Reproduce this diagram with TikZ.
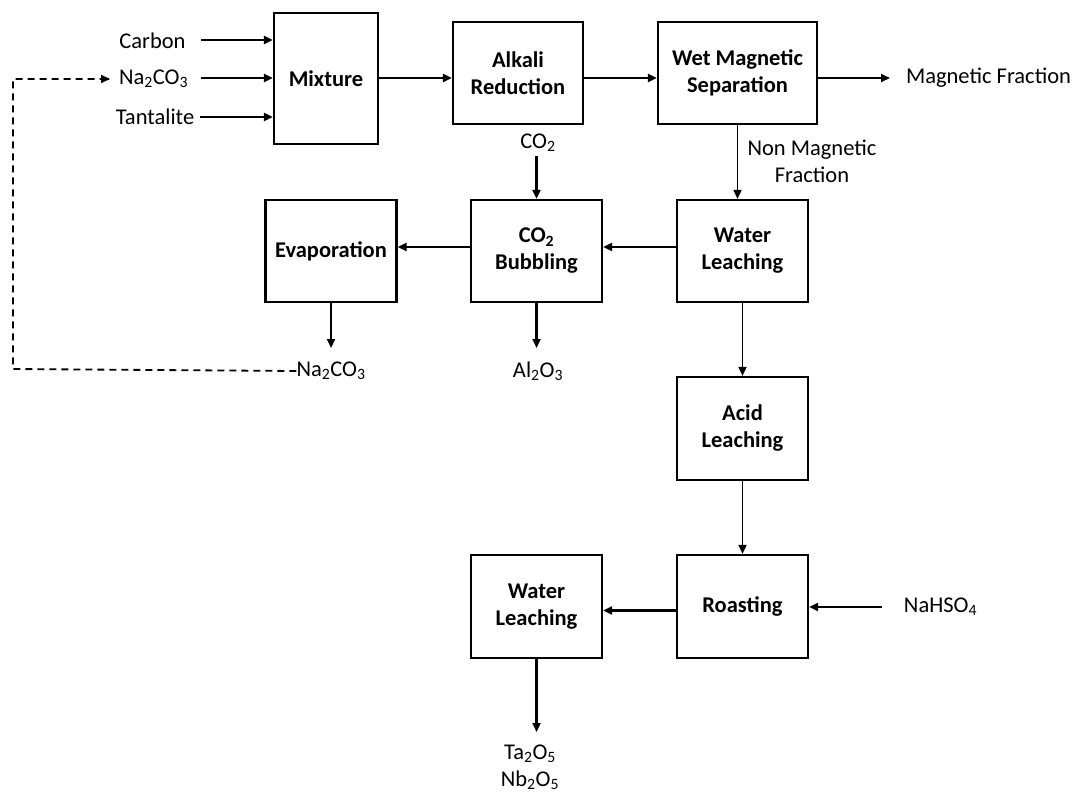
\documentclass[tikz,border=0pt]{standalone}
\usepackage{fontspec}
\setmainfont{Carlito}
\usetikzlibrary{arrows.meta}
\tikzset{
  proc/.style={draw, line width=2.2pt, rectangle, inner sep=0pt, align=center,
    font=\fontsize{22.5}{27}\selectfont\bfseries},
  lbl/.style={inner sep=0pt, align=center, font=\fontsize{22.5}{27}\selectfont},
  arr/.style={line width=2.2pt, -{Triangle[length=9pt,width=8pt]}},
  thinarr/.style={line width=1.7pt, -{Triangle[length=9pt,width=8pt]}},
  recycle/.style={line width=1.8pt, dash pattern=on 7pt off 5pt}
}
\begin{document}
\begin{tikzpicture}[x=1pt,y=-1pt]
\useasboundingbox (0,0) rectangle (1074,793);
% process boxes
\node[proc, minimum width=104pt, minimum height=131pt] (mix) at (326,78.5) {Mixture};
\node[proc, minimum width=130pt, minimum height=102pt] (alk) at (518,73) {Alkali\\Reduction};
\node[proc, minimum width=159pt, minimum height=102pt] (wet) at (737.5,73) {Wet Magnetic\\Separation};
\node[proc, minimum width=131pt, minimum height=102pt] (evap) at (331,251) {Evaporation};
\node[proc, minimum width=131pt, minimum height=102pt] (bub) at (536.5,251) {CO\textsubscript{2}\\Bubbling};
\node[proc, minimum width=131pt, minimum height=102pt] (wl1) at (742.5,251) {Water\\Leaching};
\node[proc, minimum width=131pt, minimum height=103pt] (acid) at (742.5,428.5) {Acid\\Leaching};
\node[proc, minimum width=131pt, minimum height=103pt] (roast) at (742.5,606.5) {Roasting};
\node[proc, minimum width=131pt, minimum height=103pt] (wl2) at (536.5,606.5) {Water\\Leaching};
% labels
\node[lbl] (carbon) at (152.5,41) {Carbon};
\node[lbl] (na1) at (153.5,79) {Na\textsubscript{2}CO\textsubscript{3}};
\node[lbl] (tant) at (155,117) {Tantalite};
\node[lbl] (magf) at (988.5,78) {Magnetic Fraction};
\node[lbl] (co2) at (538,143) {CO\textsubscript{2}};
\node[lbl] (nonmag) at (812,161) {Non Magnetic\\Fraction};
\node[lbl] (na2) at (331,371) {Na\textsubscript{2}CO\textsubscript{3}};
\node[lbl] (al) at (538,371) {Al\textsubscript{2}O\textsubscript{3}};
\node[lbl] (nahso) at (940.5,607) {NaHSO\textsubscript{4}};
\node[lbl] (prod) at (530,767) {Ta\textsubscript{2}O\textsubscript{5}\\Nb\textsubscript{2}O\textsubscript{5}};
% free ends
\coordinate (c1) at (201,40);
\coordinate (c2) at (201,78);
\coordinate (c3) at (200,117);
\coordinate (mfend) at (890,78);
\coordinate (co2start) at (536.5,156);
\coordinate (evapend) at (331,348);
\coordinate (alend) at (536.5,348);
\coordinate (prodend) at (536.5,732);
\coordinate (nastart) at (881.7,607);
\coordinate (dl) at (13,369);
\coordinate (ul) at (13,79);
\coordinate (dashend) at (110,79);
% inputs to mixture
\draw[arr] (c1) -- (c1 -| mix.west);
\draw[arr] (c2) -- (c2 -| mix.west);
\draw[arr] (c3) -- (c3 -| mix.west);
% main line
\draw[arr] (mix.east |- c2) -- (c2 -| alk.west);
\draw[arr] (alk.east |- c2) -- (c2 -| wet.west);
\draw[thinarr] (wet.east |- mfend) -- (mfend);
\draw[thinarr] (wet.south) -- (wet.south |- wl1.north);
\draw[arr] (co2start) -- (bub.north);
\draw[arr] ([yshift=4pt]wl1.west) -- ([yshift=4pt]bub.east);
\draw[arr] ([yshift=4pt]bub.west) -- ([yshift=4pt]evap.east);
\draw[arr] (evap.south) -- (evapend);
\draw[arr] (bub.south) -- (alend);
\draw[thinarr] (wl1.south) -- (acid.north);
\draw[thinarr] (acid.south) -- (roast.north);
\draw[arr] (nastart) -- (nastart -| roast.east);
\draw[arr] ([yshift=-4pt]roast.west) -- ([yshift=-4pt]wl2.east);
\draw[arr] (wl2.south) -- (prodend);
% recycle line
\draw[recycle] (na2.west) -- (dl) -- (ul) -- (dashend);
\draw[line width=1.8pt, -{Triangle[length=9pt,width=8pt]}] ([xshift=-1pt]dashend) -- (dashend);
\end{tikzpicture}
\end{document}
